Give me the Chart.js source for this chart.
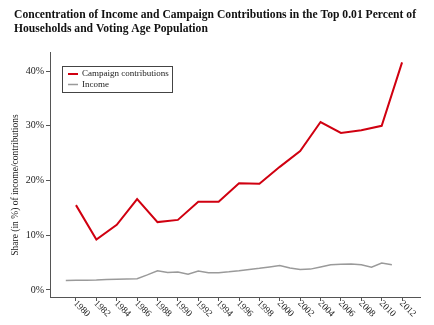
<!DOCTYPE html>
<html>
<head>
<meta charset="utf-8">
<script src="https://cdn.jsdelivr.net/npm/chart.js@4/dist/chart.umd.min.js"></script>
<style>
html, body { margin: 0; padding: 0; background: #fff; }
#wrap { width: 434px; height: 325px; position: relative; }
</style>
</head>
<body>
<div id="wrap"><canvas id="chart"></canvas></div>
<script>
const titleLines = [
  'Concentration of Income and Campaign Contributions in the Top 0.01 Percent of',
  'Households and Voting Age Population'
];
const yTitle = 'Share (in %) of income/contributions';

// election years, share of contributions (%)
const contribYears = [1980, 1982, 1984, 1986, 1988, 1990, 1992, 1994, 1996, 1998, 2000, 2002, 2004, 2006, 2008, 2010, 2012];
const contribShare = [15.5, 9.2, 11.9, 16.6, 12.4, 12.8, 16.1, 16.1, 19.5, 19.4, 22.5, 25.4, 30.7, 28.7, 29.2, 30.0, 41.6];

// yearly income share (%)
const incomeYears = [1979, 1980, 1981, 1982, 1983, 1984, 1985, 1986, 1987, 1988, 1989, 1990, 1991, 1992, 1993, 1994, 1995,
  1996, 1997, 1998, 1999, 2000, 2001, 2002, 2003, 2004, 2005, 2006, 2007, 2008, 2009, 2010, 2011];
const incomeShare = [1.7, 1.75, 1.77, 1.8, 1.88, 1.95, 2.0, 2.05, 2.75, 3.5, 3.2, 3.25, 2.85, 3.45, 3.15, 3.15, 3.3,
  3.5, 3.75, 3.95, 4.2, 4.45, 4.0, 3.75, 3.8, 4.2, 4.6, 4.7, 4.75, 4.6, 4.15, 4.9, 4.6];

const yearTicks = [1980, 1982, 1984, 1986, 1988, 1990, 1992, 1994, 1996, 1998, 2000, 2002, 2004, 2006, 2008, 2010, 2012];
const shareTicks = [0, 10, 20, 30, 40];

const serif = '"Liberation Serif", "Times New Roman", serif';

function pairs(xs, ys) {
  return xs.map((x, i) => ({ x: x, y: ys[i] }));
}

// title, axis title, rotated year labels and the boxed legend
const extras = {
  id: 'extras',
  afterDraw(chart) {
    const ctx = chart.ctx;
    const xs = chart.scales.x;
    const ca = chart.chartArea;
    ctx.save();

    // squeeze the title a little so the first line fits the width
    ctx.save();
    ctx.fillStyle = '#111';
    ctx.font = 'bold 12.5px ' + serif;
    ctx.textAlign = 'left';
    ctx.textBaseline = 'alphabetic';
    const sx = Math.min(1, 402 / ctx.measureText(titleLines[0]).width);
    ctx.translate(14, 0);
    ctx.scale(sx, 1);
    titleLines.forEach((t, i) => ctx.fillText(t, 0, 17.5 + i * 14.5));
    ctx.restore();

    ctx.save();
    ctx.font = '9.5px ' + serif;
    ctx.fillStyle = '#222';
    ctx.textAlign = 'center';
    ctx.textBaseline = 'middle';
    ctx.translate(15, 185);
    ctx.rotate(-Math.PI / 2);
    ctx.fillText(yTitle, 0, 0);
    ctx.restore();

    ctx.font = '9.5px ' + serif;
    ctx.fillStyle = '#222';
    ctx.textAlign = 'left';
    ctx.textBaseline = 'middle';
    yearTicks.forEach(yr => {
      const px = xs.getPixelForValue(yr);
      ctx.save();
      ctx.translate(px - 1, xs.top + 5);
      ctx.rotate(Math.PI / 4);
      ctx.fillText(String(yr), 0, 0);
      ctx.restore();
    });

    const bx = ca.left + 12, by = ca.top + 14, bw = 110, bh = 26;
    ctx.strokeStyle = '#444';
    ctx.lineWidth = 1;
    ctx.strokeRect(bx + 0.5, by + 0.5, bw, bh);
    ctx.font = '9px ' + serif;
    chart.data.datasets.forEach((ds, i) => {
      const ly = by + 8 + i * 10.5;
      ctx.strokeStyle = ds.borderColor;
      ctx.lineWidth = ds.borderWidth;
      ctx.beginPath();
      ctx.moveTo(bx + 6, ly);
      ctx.lineTo(bx + 16, ly);
      ctx.stroke();
      ctx.fillStyle = '#222';
      ctx.fillText(ds.label, bx + 20, ly);
    });
    ctx.restore();
  }
};

new Chart(document.getElementById('chart'), {
  type: 'line',
  data: {
    datasets: [
      {
        label: 'Campaign contributions',
        data: pairs(contribYears, contribShare),
        borderColor: '#d00010',
        borderWidth: 2,
        pointRadius: 0,
        tension: 0
      },
      {
        label: 'Income',
        data: pairs(incomeYears, incomeShare),
        borderColor: '#9a9a9a',
        borderWidth: 1.5,
        pointRadius: 0,
        tension: 0
      }
    ]
  },
  options: {
    responsive: true,
    maintainAspectRatio: false,
    animation: false,
    layout: { padding: { top: 52, right: 14, left: 0, bottom: 0 } },
    plugins: {
      legend: { display: false },
      title: { display: false },
      tooltip: { enabled: false }
    },
    scales: {
      x: {
        type: 'linear',
        min: 1977.45,
        max: 2013.76,
        afterBuildTicks: s => { s.ticks = yearTicks.map(v => ({ value: v })); },
        afterFit: s => { s.height = 28; },
        ticks: { display: false },
        grid: { display: true, drawOnChartArea: false, drawTicks: true, tickLength: 4, color: '#555' },
        border: { display: true, color: '#555', width: 1 }
      },
      y: {
        min: -1.3,
        max: 43.5,
        afterBuildTicks: s => { s.ticks = shareTicks.map(v => ({ value: v })); },
        afterFit: s => { s.width = 50; },
        ticks: {
          callback: v => v + '%',
          padding: 2,
          color: '#222',
          font: { family: serif, size: 10 }
        },
        grid: { display: true, drawOnChartArea: false, drawTicks: true, tickLength: 4, color: '#555' },
        border: { display: true, color: '#555', width: 1 }
      }
    }
  },
  plugins: [extras]
});
</script>
</body>
</html>
